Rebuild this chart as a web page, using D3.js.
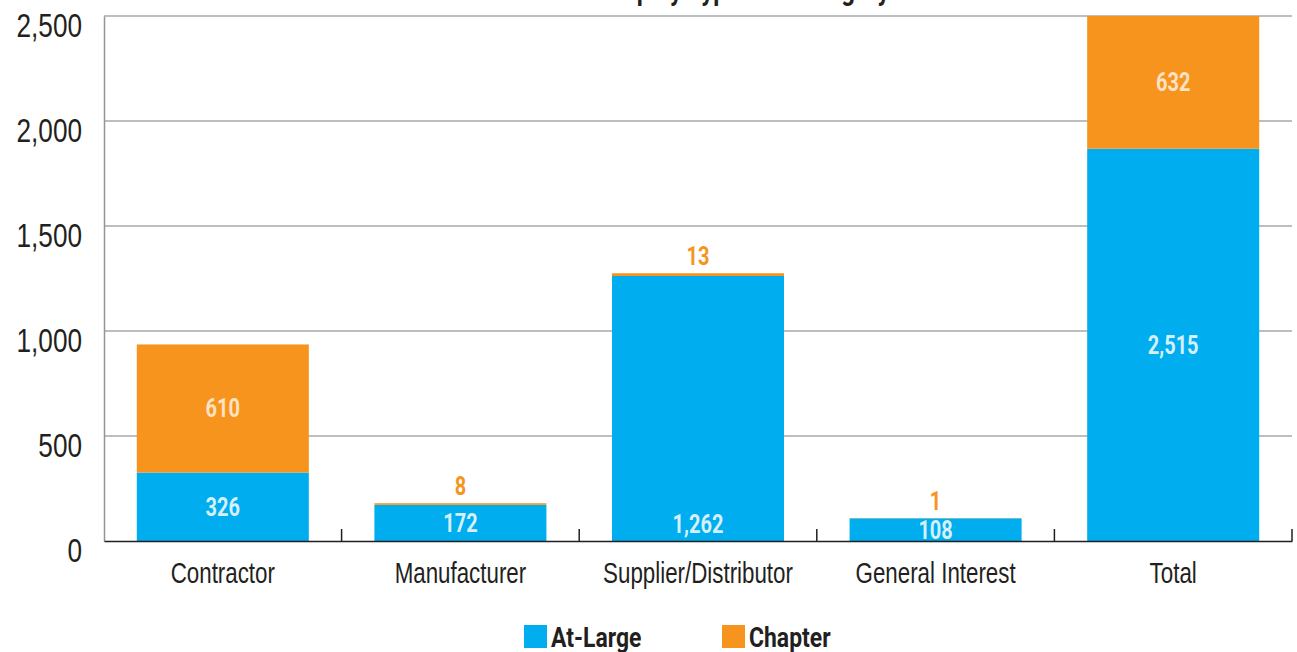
<!DOCTYPE html>
<html>
<head>
<meta charset="utf-8">
<script src="https://cdn.jsdelivr.net/npm/d3@7"></script>
<style>
  body { margin: 0; background: #fff; }
  svg { display: block; font-family: Roboto, "Noto Sans", sans-serif; }
</style>
</head>
<body>
<svg></svg>
<script>
const categories = ['Contractor', 'Manufacturer', 'Supplier/Distributor', 'General Interest', 'Total'];
const atLarge = [326, 172, 1262, 108, 1868];
const chapter = [610, 8, 13, 1, 632];
// labels as printed on the source chart
const atLargeLabels = ['326', '172', '1,262', '108', '2,515'];
const chapterLabels = ['610', '8', '13', '1', '632'];
const yTicks = [0, 500, 1000, 1500, 2000, 2500];
const seriesNames = ['At-Large', 'Chapter'];
const colors = ['#00adee', '#f7941e'];

// the source uses a condensed face; squeeze Roboto horizontally
function squeeze(sel, k) {
  sel.each(function () {
    const t = d3.select(this);
    const x = +t.attr('x') || 0;
    t.attr('x', x / k).attr('transform', `scale(${k},1)`);
  });
}

const svg = d3.select('svg').attr('width', 1297).attr('height', 652);
const margin = { top: 16, right: 5, bottom: 111, left: 104 };
const width = 1297 - margin.left - margin.right;
const height = 652 - margin.top - margin.bottom;
const g = svg.append('g').attr('transform', `translate(${margin.left},${margin.top})`);

svg.append('text')
  .attr('x', margin.left + width / 2)
  .attr('y', 0)
  .attr('text-anchor', 'middle')
  .style('font-size', '30px')
  .style('font-weight', 'bold')
  .attr('fill', '#231f20')
  .text('Member Employ Type and Category')
  .call(squeeze, 0.8);

const x = d3.scaleBand()
  .domain(categories)
  .range([0, width])
  .paddingInner(0.276)
  .paddingOuter(0.138);
const y = d3.scaleLinear()
  .domain([0, 2500])
  .range([height, 0]);

// gridlines
g.append('g')
  .selectAll('line')
  .data(yTicks.slice(1))
  .enter().append('line')
  .attr('x1', 0).attr('x2', width)
  .attr('y1', d => y(d)).attr('y2', d => y(d))
  .attr('stroke', '#a7a9ac')
  .attr('stroke-width', 1.5);

// y axis
const yAxis = g.append('g')
  .call(d3.axisLeft(y).tickValues(yTicks).tickSize(0).tickPadding(22).tickFormat(d3.format(',')));
yAxis.select('.domain').attr('stroke', '#939598').attr('stroke-width', 1.5);
yAxis.selectAll('text')
  .attr('dy', '0.6em')
  .attr('fill', '#231f20')
  .style('font-size', '34px')
  .call(squeeze, 0.77);

// stacked bars
const rows = categories.map((c, i) => ({ cat: c, 'At-Large': atLarge[i], 'Chapter': chapter[i] }));
const stack = d3.stack().keys(seriesNames)(rows);

g.selectAll('.layer')
  .data(stack)
  .enter().append('g')
  .attr('class', 'layer')
  .attr('fill', (d, i) => colors[i])
  .selectAll('rect')
  .data(d => d)
  .enter().append('rect')
  .attr('x', d => x(d.data.cat))
  .attr('y', d => y(d[1]))
  .attr('width', x.bandwidth())
  .attr('height', d => y(d[0]) - y(d[1]));

// value labels (the source sets the supplier label low in its bar)
const lowLabel = new Set(['Supplier/Distributor']);
stack.forEach((layer, si) => {
  const labels = si === 0 ? atLargeLabels : chapterLabels;
  const small = d => si === 1 && y(d[0]) - y(d[1]) < 30;
  g.append('g').selectAll('text')
    .data(layer)
    .enter().append('text')
    .attr('x', d => x(d.data.cat) + x.bandwidth() / 2)
    .attr('y', d => {
      if (small(d)) return y(d[1]) - 8;
      if (si === 0 && lowLabel.has(d.data.cat)) return y(d[0]) - 8;
      return (y(d[0]) + y(d[1])) / 2 + 9;
    })
    .attr('text-anchor', 'middle')
    .style('font-size', '25px')
    .style('font-weight', 'bold')
    .attr('fill', d => small(d) ? colors[1] : (si === 0 ? '#d6f0fb' : '#fde2c3'))
    .text((d, i) => labels[i])
    .call(squeeze, 0.8);
});

// x axis
const xAxis = g.append('g')
  .attr('transform', `translate(0,${height})`)
  .call(d3.axisBottom(x).tickSize(0).tickPadding(21));
xAxis.select('.domain').attr('stroke', '#231f20').attr('stroke-width', 1.5);
xAxis.selectAll('text')
  .attr('fill', '#231f20')
  .style('font-size', '29px')
  .call(squeeze, 0.77);
// boundary ticks between categories
g.append('g')
  .selectAll('line')
  .data(categories)
  .enter().append('line')
  .attr('x1', d => x(d) + x.bandwidth() + x.step() * x.paddingInner() / 2)
  .attr('x2', d => x(d) + x.bandwidth() + x.step() * x.paddingInner() / 2)
  .attr('y1', height - 12).attr('y2', height)
  .attr('stroke', '#231f20')
  .attr('stroke-width', 1.5);

// legend
const legend = svg.append('g')
  .selectAll('g')
  .data(seriesNames)
  .enter().append('g')
  .attr('transform', (d, i) => `translate(${524 + i * 198},625)`);
legend.append('rect')
  .attr('width', 23).attr('height', 23)
  .attr('fill', (d, i) => colors[i]);
legend.append('text')
  .attr('x', 27).attr('y', 22)
  .style('font-size', '27px')
  .style('font-weight', 'bold')
  .attr('fill', '#231f20')
  .text(d => d)
  .call(squeeze, 0.85);
</script>
</body>
</html>
